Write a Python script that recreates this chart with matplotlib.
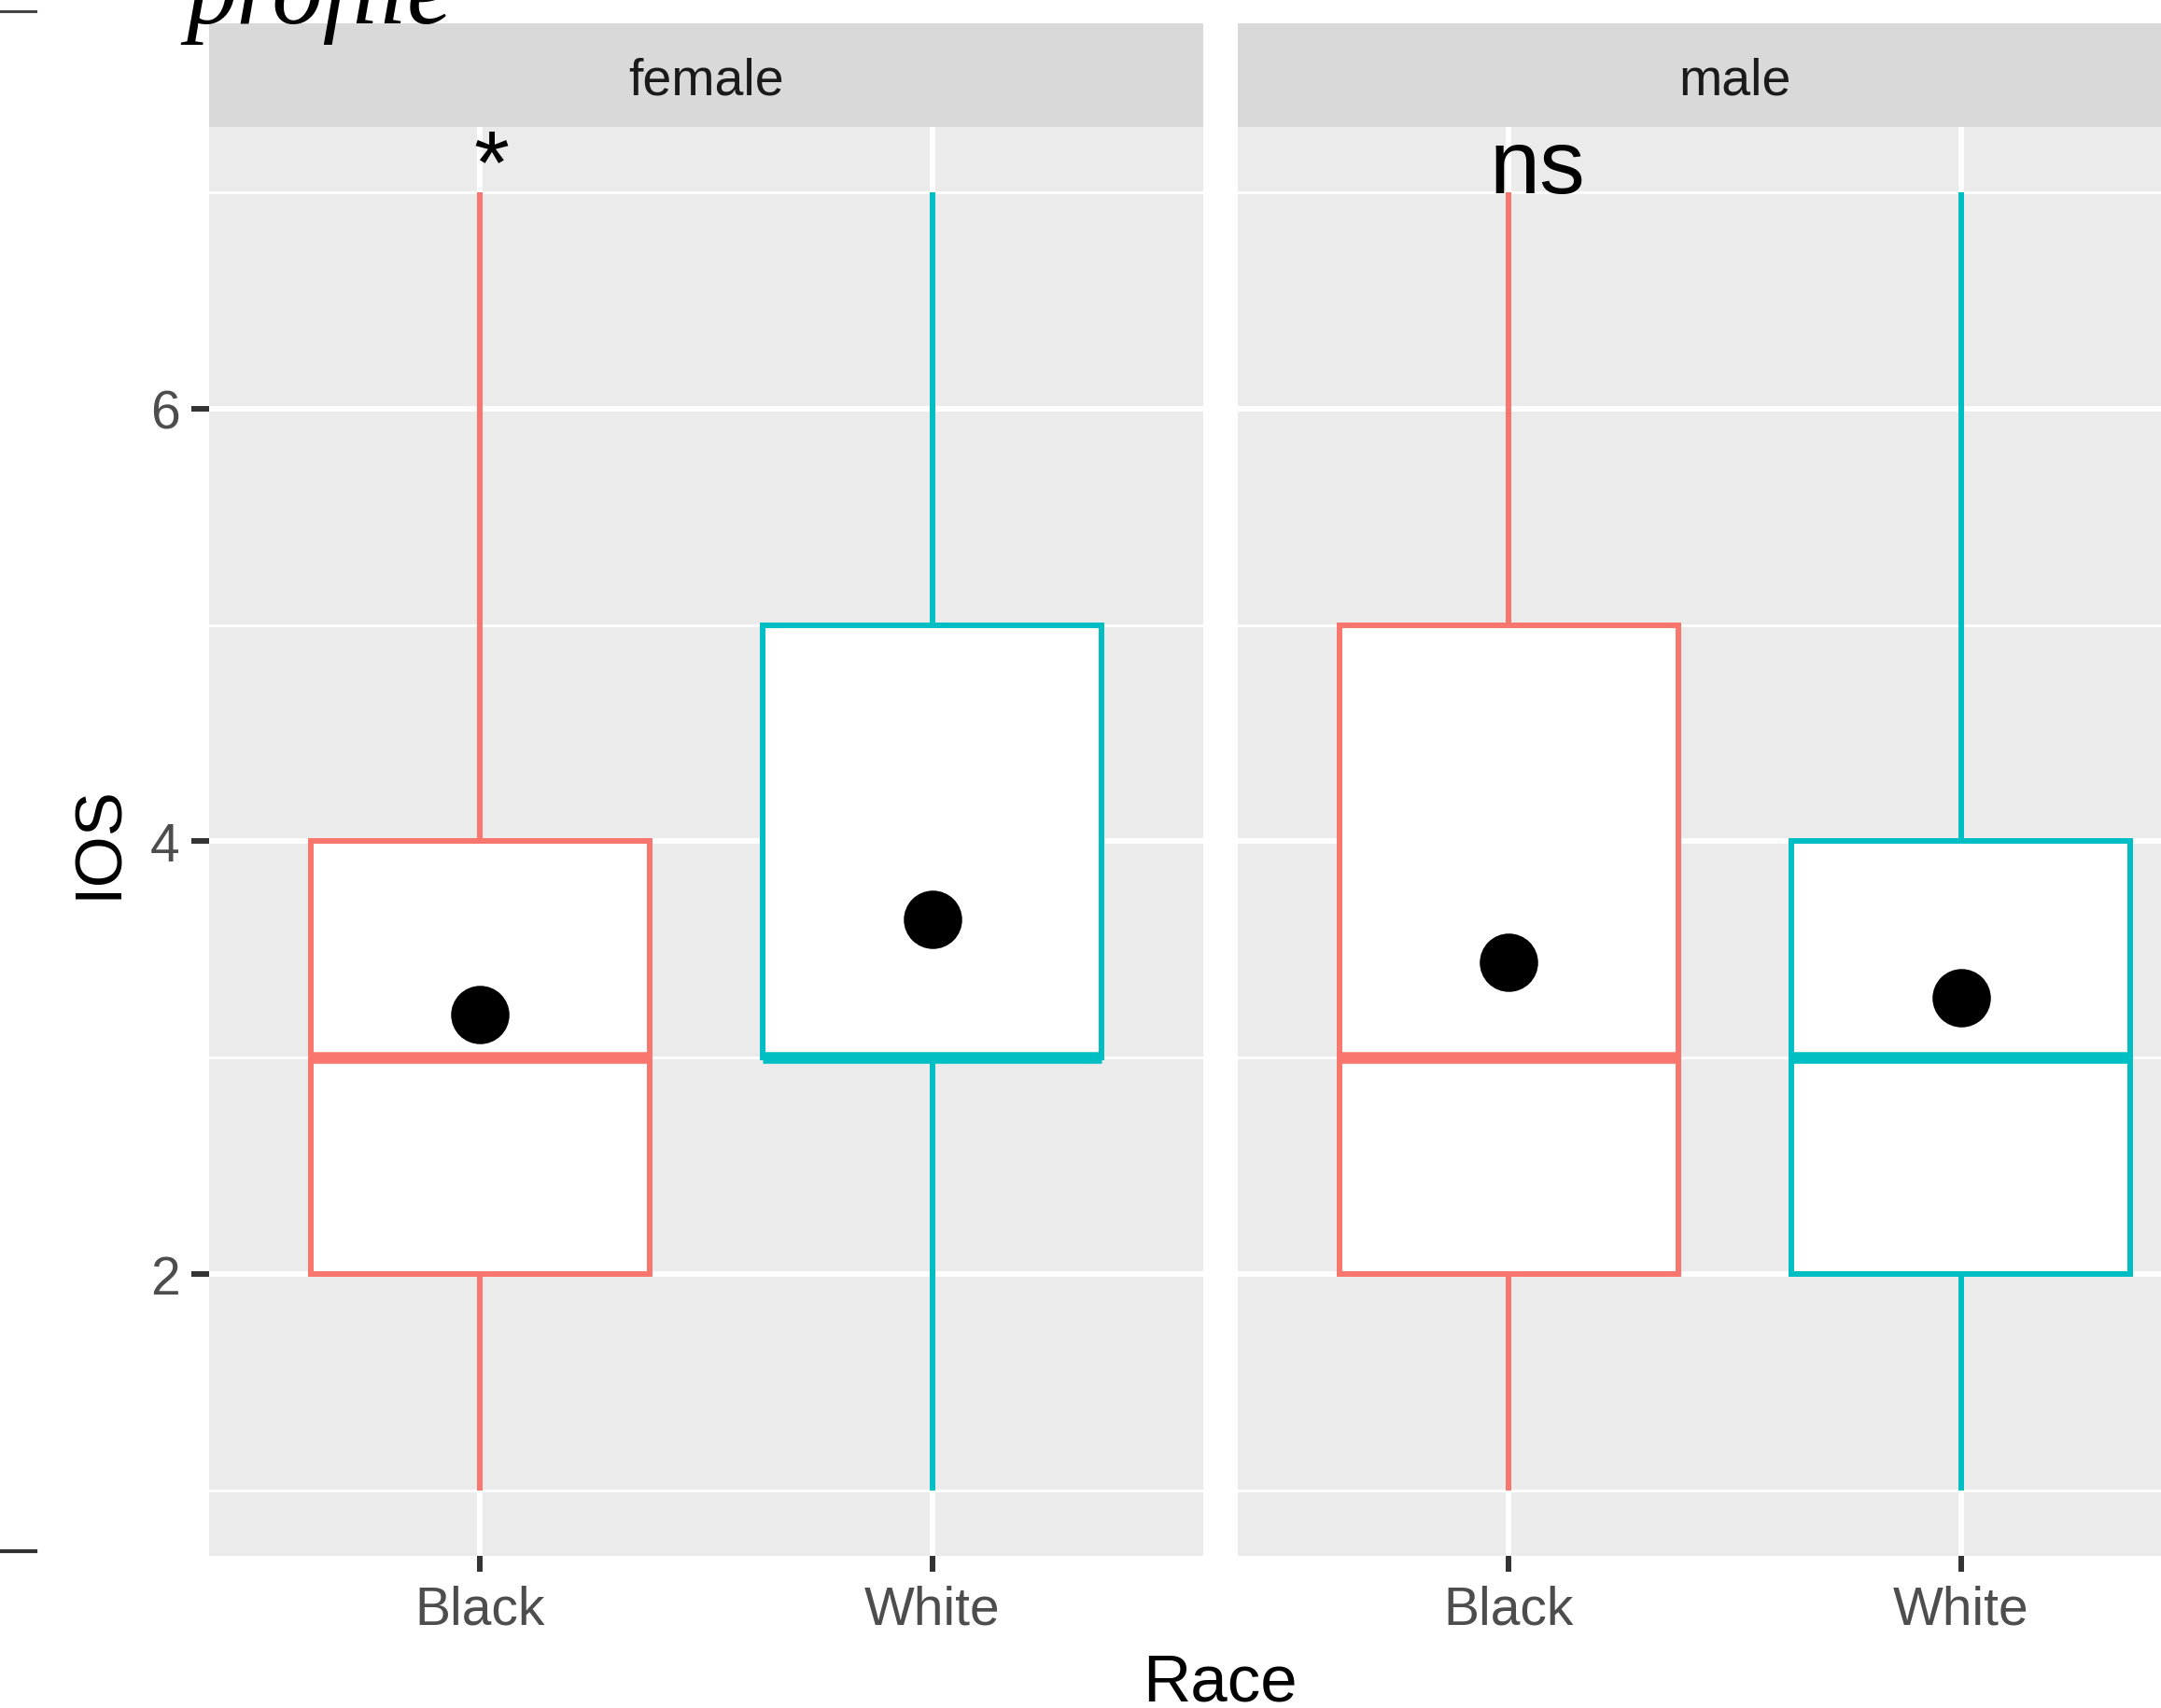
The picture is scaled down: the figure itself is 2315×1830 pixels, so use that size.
import matplotlib
matplotlib.use("Agg")
import matplotlib.pyplot as plt
from matplotlib.lines import Line2D
from matplotlib.patches import Rectangle

plt.rcParams['font.family'] = ['Liberation Sans', 'DejaVu Sans']

races = ["Black", "White"]
sexes = ["female", "male"]
race_colors = ["#F8766D", "#00BFC4"]

# box summaries (per sex, Black then White)
whis_lo = {"female": [1, 1], "male": [1, 1]}
q1 = {"female": [2, 3], "male": [2, 2]}
median = {"female": [3, 3], "male": [3, 3]}
q3 = {"female": [4, 5], "male": [5, 4]}
whis_hi = {"female": [7, 7], "male": [7, 7]}
means = {"female": [3.20, 3.64], "male": [3.44, 3.28]}

sig_labels = {"female": "*", "male": "ns"}
sig_x = {"female": 1.025, "male": 1.062}
sig_y = 7

W, H = 2315, 1831
fig = plt.figure(figsize=(W / 100, H / 100), dpi=100)


def fx(px):
    return px / W


def fy(px):
    return 1 - px / H


panel_top, panel_bot = 137, 1668
strip_top = 26
panel_w = 1065
lefts = [224, 1326]

for i, sex in enumerate(sexes):
    left = lefts[i]
    ax = fig.add_axes([fx(left), fy(panel_bot), fx(panel_w), (panel_bot - panel_top) / H])
    ax.set_facecolor('#EBEBEB')
    for sp in ax.spines.values():
        sp.set_visible(False)

    stats = []
    for j in range(len(races)):
        stats.append(dict(whislo=whis_lo[sex][j], q1=q1[sex][j], med=median[sex][j],
                          q3=q3[sex][j], whishi=whis_hi[sex][j], mean=means[sex][j],
                          fliers=[]))
    bp = ax.bxp(stats, positions=[1, 2], widths=0.75, patch_artist=True,
                showfliers=False, showcaps=False, showmeans=True, manage_ticks=False)
    for j, c in enumerate(race_colors):
        box = bp['boxes'][j]
        box.set_facecolor('white')
        box.set_edgecolor(c)
        box.set_linewidth(4.3)
        box.set_zorder(2)
        for w in bp['whiskers'][2 * j:2 * j + 2]:
            w.set_color(c)
            w.set_linewidth(4.3)
            w.set_solid_capstyle('butt')
            w.set_zorder(1.5)
        med = bp['medians'][j]
        med.set_color(c)
        med.set_linewidth(9)
        med.set_solid_capstyle('butt')
        med.set_zorder(3)
        mn = bp['means'][j]
        mn.set_marker('o')
        mn.set_markerfacecolor('black')
        mn.set_markeredgecolor('black')
        mn.set_markeredgewidth(0)
        mn.set_markersize(45)
        mn.set_zorder(4)

    ax.set_xlim(0.4, 2.6)
    ax.set_ylim(0.7, 7.3)
    ax.set_yticks([2, 4, 6])
    ax.set_yticks([1, 3, 5, 7], minor=True)
    ax.set_xticks([1, 2])
    ax.set_xticklabels(races)
    ax.set_axisbelow(True)
    ax.grid(which='major', color='white', lw=4.3)
    ax.grid(which='minor', axis='y', color='white', lw=2.2)
    ax.tick_params(which='minor', length=0)
    ax.tick_params(axis='x', which='major', length=12.5, width=4.3, color='#333333',
                   pad=9.4, labelsize=41, labelcolor='#4D4D4D')
    ax.tick_params(axis='y', which='major', length=14, width=4.3, color='#333333',
                   pad=8.6, labelsize=41, labelcolor='#4D4D4D')
    if i > 0:
        ax.tick_params(axis='y', which='both', left=False, labelleft=False)

    ax.text(sig_x[sex], sig_y, sig_labels[sex], fontsize=70, ha='center',
            va='baseline', color='black', clip_on=False, zorder=5)

    # facet strip
    fig.add_artist(Rectangle((fx(left), fy(panel_top)), fx(panel_w),
                             (panel_top - strip_top) / H, transform=fig.transFigure,
                             facecolor='#D9D9D9', edgecolor='none'))
    fig.text(fx(left + panel_w / 2), fy(102), sex, fontsize=40, color='#1A1A1A',
             ha='center', va='baseline')

fig.text(fx(1307), fy(1823), "Race", fontsize=51, color='black', ha='center', va='baseline')
fig.text(fx(107.5), fy(902), "IOS", fontsize=51, color='black', rotation=90,
         ha='center', va='center')

# cut-off title and stray marks at the top left
fig.text(fx(199), fy(25), "profile", fontsize=78, family='Liberation Serif',
         style='italic', color='black', ha='left', va='baseline')
fig.add_artist(Line2D([0, fx(38)], [fy(13), fy(13)], transform=fig.transFigure,
                      color='#444444', lw=2.2))
fig.add_artist(Line2D([0, fx(38)], [fy(1663), fy(1663)], transform=fig.transFigure,
                      color='#333333', lw=3))

fig.savefig("out.png", dpi=100)
